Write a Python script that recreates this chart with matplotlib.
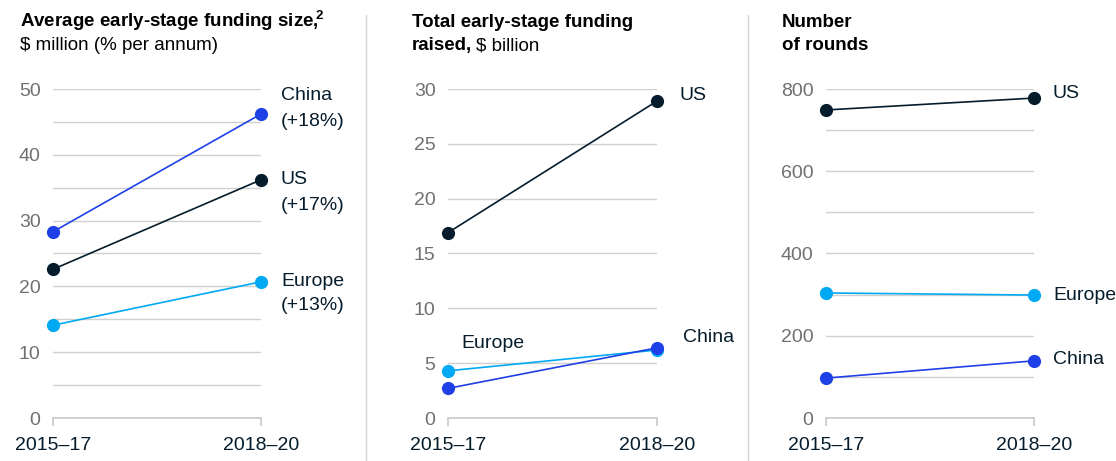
import matplotlib
matplotlib.use("Agg")
import matplotlib.pyplot as plt
from matplotlib.ticker import MultipleLocator

plt.rcParams['font.family'] = ['Liberation Sans', 'DejaVu Sans']
plt.rcParams['mathtext.fontset'] = 'custom'
plt.rcParams['mathtext.rm'] = 'Liberation Sans'
plt.rcParams['mathtext.bf'] = 'Liberation Sans:bold'

periods = ["2015–17", "2018–20"]

# Average early-stage funding size, $ million
avg_china = [28.3, 46.2]
avg_us = [22.6, 36.2]
avg_europe = [14.1, 20.7]

# Total early-stage funding raised, $ billion
tot_us = [16.9, 28.9]
tot_europe = [4.3, 6.2]
tot_china = [2.7, 6.4]

# Number of rounds
rnd_us = [749, 778]
rnd_europe = [304, 299]
rnd_china = [97, 139]

NAVY = "#051c2c"
BLUE = "#1f40e6"
CYAN = "#00a9f4"
GRID = "#d0d0d0"
TICK = "#707070"

W, H = 1116, 461
fig = plt.figure(figsize=(W / 100, H / 100), dpi=100)

def px_axes(x0, x1, ytop=89, ybot=418):
    return fig.add_axes([x0 / W, (H - ybot) / H, (x1 - x0) / W, (ybot - ytop) / H])

def style(ax, ymax, grid_step, label_step):
    ax.set_xlim(0, 1)
    ax.set_ylim(0, ymax)
    for s in ["top", "right", "left"]:
        ax.spines[s].set_visible(False)
    ax.spines["bottom"].set_color("#c8c8c8")
    ax.spines["bottom"].set_linewidth(1.2)
    ax.yaxis.set_major_locator(MultipleLocator(label_step))
    ax.yaxis.set_minor_locator(MultipleLocator(grid_step))
    ax.grid(axis="y", which="both", color=GRID, linewidth=1.0)
    ax.set_axisbelow(True)
    ax.tick_params(axis="y", which="both", length=0, pad=9, labelsize=14, labelcolor=TICK)
    ax.set_xticks([0, 1])
    ax.set_xticklabels(periods)
    ax.tick_params(axis="x", length=6, width=1.2, color="#c8c8c8", pad=8, labelsize=14, labelcolor=NAVY)
    ax.patch.set_alpha(0)

def series(ax, vals, color):
    ax.plot([0, 1], vals, color=color, lw=1.2, marker="o", markersize=9.5,
            markeredgewidth=0, clip_on=False, zorder=3)

LBL = dict(fontsize=14, color=NAVY, va="center", ha="left")

# Panel 1
ax1 = px_axes(53, 261)
style(ax1, 50, 5, 10)
series(ax1, avg_europe, CYAN)
series(ax1, avg_us, NAVY)
series(ax1, avg_china, BLUE)
fig.text(281 / W, 1 - 96 / H, "China", **LBL)
fig.text(281 / W, 1 - 121 / H, "(+18%)", **LBL)
fig.text(281 / W, 1 - 180 / H, "US", **LBL)
fig.text(281 / W, 1 - 205 / H, "(+17%)", **LBL)
fig.text(281 / W, 1 - 281 / H, "Europe", **LBL)
fig.text(281 / W, 1 - 306 / H, "(+13%)", **LBL)

# Panel 2
ax2 = px_axes(448, 657)
style(ax2, 30, 5, 5)
series(ax2, tot_us, NAVY)
series(ax2, tot_europe, CYAN)
series(ax2, tot_china, BLUE)
fig.text(679 / W, 1 - 95 / H, "US", **LBL)
fig.text(461 / W, 1 - 343 / H, "Europe", **LBL)
fig.text(683 / W, 1 - 338 / H, "China", **LBL)

# Panel 3
ax3 = px_axes(826, 1034)
style(ax3, 800, 100, 200)
series(ax3, rnd_us, NAVY)
series(ax3, rnd_europe, CYAN)
series(ax3, rnd_china, BLUE)
fig.text(1053 / W, 1 - 94 / H, "US", **LBL)
fig.text(1053 / W, 1 - 295 / H, "Europe", **LBL)
fig.text(1053 / W, 1 - 359 / H, "China", **LBL)

# Titles
TB = dict(fontsize=13.5, color="black", va="baseline", ha="left")
fig.text(20 / W, 1 - 27 / H, r"Average early-stage funding size,$\!^{\mathbf{2}}$",
         fontweight="bold", **TB)
fig.text(20 / W, 1 - 50 / H, r"\$ million (% per annum)", **TB)
fig.text(412 / W, 1 - 27 / H, "Total early-stage funding", fontweight="bold", **TB)
t = fig.text(412 / W, 1 - 50 / H, "raised,", fontweight="bold", **TB)
fig.canvas.draw()
bb = t.get_window_extent()
fig.text(bb.x1 / W + 4 / W, 1 - 50 / H, r"\$ billion", **TB)
fig.text(782 / W, 1 - 27 / H, "Number", fontweight="bold", **TB)
fig.text(782 / W, 1 - 50 / H, "of rounds", fontweight="bold", **TB)

# Separators
for x in (366, 748):
    fig.add_artist(plt.Line2D([x / W, x / W], [0, 1 - 15 / H], color="#d6d6d6", lw=1.0))

fig.savefig("out.png", dpi=100)
